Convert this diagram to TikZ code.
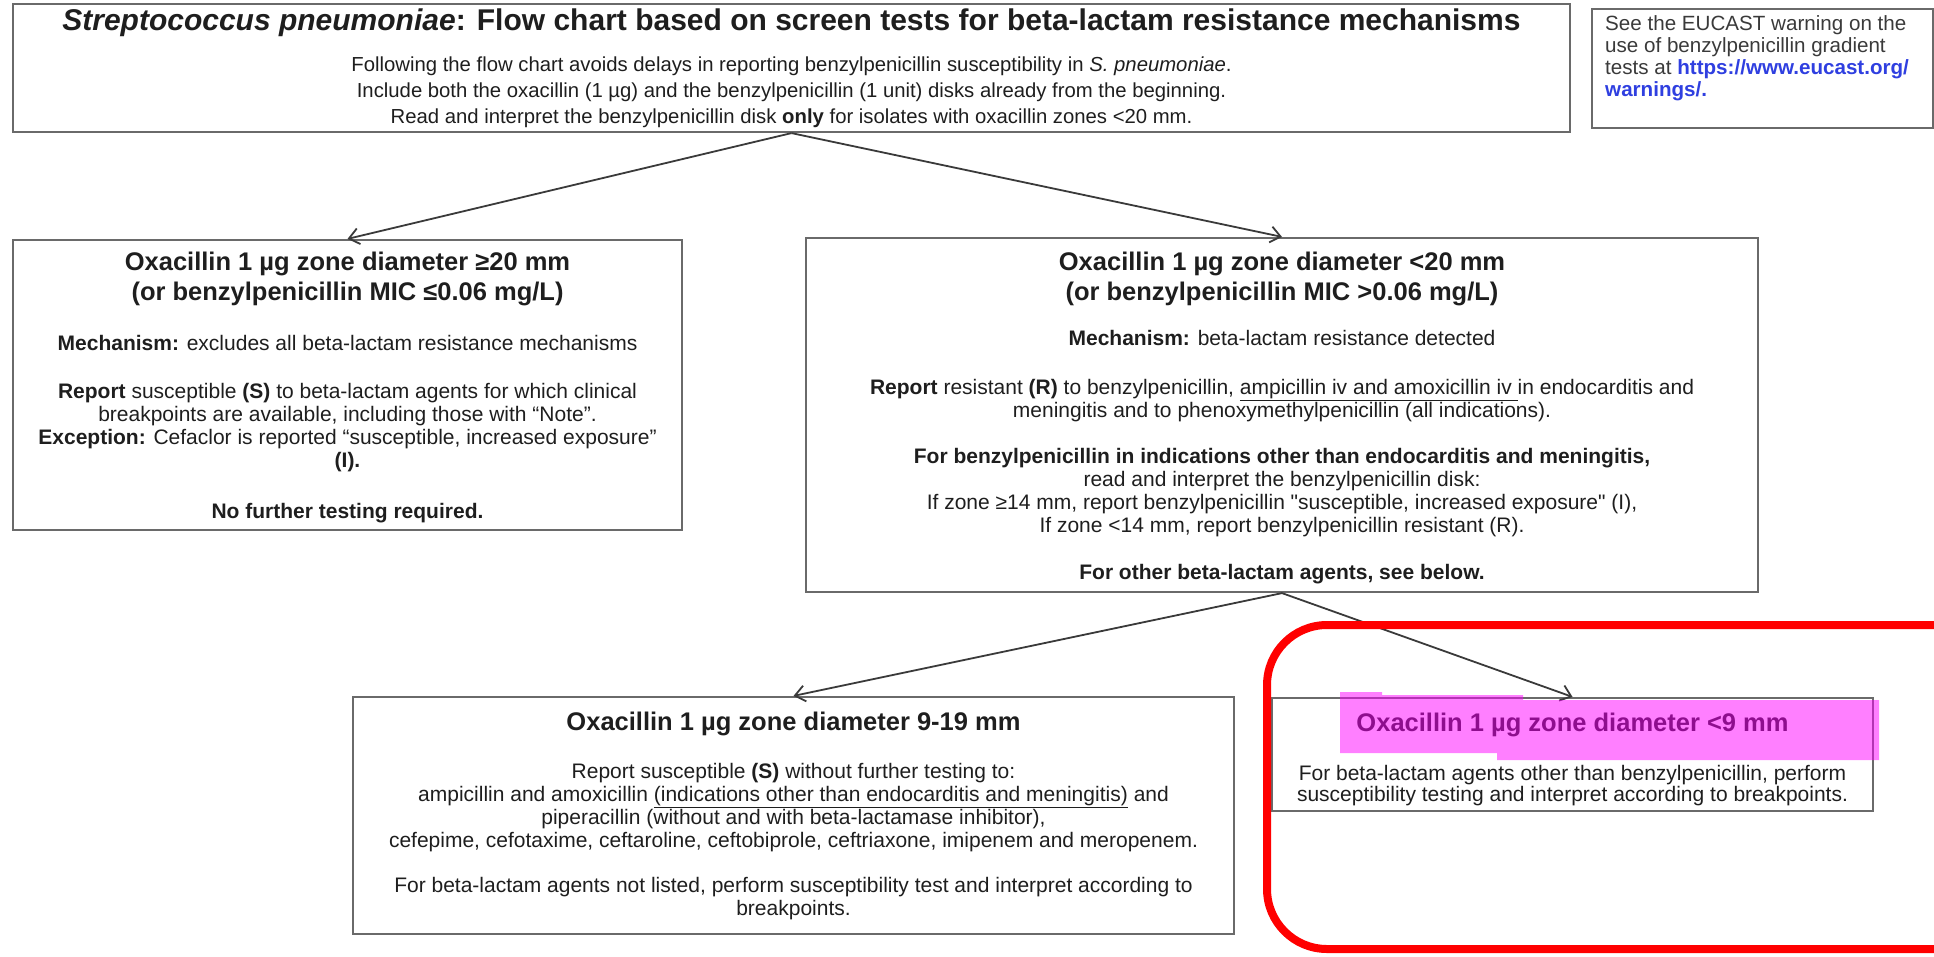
\documentclass[tikz,border=0pt]{standalone}
\usepackage{fontspec}
\setmainfont{Liberation Sans}
\newfontface\qfont{Liberation Sans}[Ligatures=TeXOff]
\usetikzlibrary{arrows.meta}
\setlength{\parindent}{0pt}
\definecolor{txt}{HTML}{1E1E1E}
\definecolor{etxt}{HTML}{3A3A3A}
\definecolor{boxline}{HTML}{6A6A6A}
\definecolor{arrowc}{HTML}{3A3A3A}
\definecolor{linkblue}{HTML}{2F3FE0}
\definecolor{hlred}{HTML}{FF0000}
\definecolor{hlmag}{HTML}{FF00FF}
\newcommand\natspace{\spaceskip=0pt\xspaceskip=0pt\relax}
\newcommand\hdfont{\fontsize{25.5}{29.5}\selectfont\bfseries\natspace}
\newcommand\bdfont[1][23]{\fontsize{21}{#1}\selectfont\natspace}
\newcommand\sq{{\qfont"}}
\tikzset{
  box/.style={draw=boxline, line width=2.2pt, inner sep=0pt},
  boxtext/.style={inner sep=0pt, text=txt},
  flow/.style={draw=arrowc, line width=1.8pt, -{Straight Barb[length=10pt,width=16pt]}},
}
\begin{document}
\begin{tikzpicture}[x=1pt,y=-1pt]
\useasboundingbox (0,0) rectangle (1934,956);

% boxes
\node[box, minimum width=1557pt, minimum height=128pt] (top) at (791.5,68) {};
\node[box, minimum width=341pt, minimum height=119pt] (note) at (1762.5,68.5) {};
\node[box, minimum width=669pt, minimum height=290pt] (left) at (347.5,385) {};
\node[box, minimum width=952pt, minimum height=354pt] (right) at (1282,415) {};
\node[box, minimum width=881pt, minimum height=237pt] (bot) at (793.5,815.5) {};
\node[box, minimum width=601pt, minimum height=113pt] (br) at (1572.5,754.5) {};

% top box text
\node[boxtext, text width=1549pt] (toptext) at (top.center) {\centering
{\fontsize{30}{30}\selectfont\bfseries\natspace\textit{Streptococcus pneumoniae}: Flow chart based on screen tests for beta-lactam resistance mechanisms\par}
\vspace{15pt}
{\fontsize{20.3}{26}\selectfont\natspace Following the flow chart avoids delays in reporting benzylpenicillin susceptibility in \textit{S. pneumoniae}.\\
Include both the oxacillin (1 µg) and the benzylpenicillin (1 unit) disks already from the beginning.\\
Read and interpret the benzylpenicillin disk \textbf{only} for isolates with oxacillin zones <20 mm.\par}};

% EUCAST note text
\node[anchor=north west, inner sep=0pt, text width=330pt, text=etxt] (notetext) at (1605,15) {\raggedright
{\fontsize{20.6}{22.2}\selectfont\natspace
See the EUCAST warning on the\\
use of benzylpenicillin gradient\\
tests at \textcolor{linkblue}{\textbf{https://www.eucast.org/}}\\
\textcolor{linkblue}{\textbf{warnings/.}}\par}};

% left box text
\node[boxtext, text width=661pt, yshift=-2.5pt] (lefttext) at (left.center) {\centering
{\hdfont Oxacillin 1 µg zone diameter ≥20 mm\\
(or benzylpenicillin MIC ≤0.06 mg/L)\par}
\vspace{27pt}
{\bdfont \textbf{Mechanism:} excludes all beta-lactam resistance mechanisms\par}
\vspace{25pt}
{\bdfont \textbf{Report} susceptible \textbf{(S)} to beta-lactam agents for which clinical\\
breakpoints are available, including those with “Note”.\\
\textbf{Exception:} Cefaclor is reported “susceptible, increased exposure”\\
\textbf{(I).}\par}
\vspace{28pt}
{\bdfont \textbf{No further testing required.}\par}};

% right box text
\node[boxtext, text width=944pt, yshift=-3pt] (righttext) at (right.center) {\centering
{\hdfont Oxacillin 1 µg zone diameter <20 mm\\
(or benzylpenicillin MIC >0.06 mg/L)\par}
\vspace{22.5pt}
{\bdfont \textbf{Mechanism:} beta-lactam resistance detected\par}
\vspace{25.5pt}
{\bdfont \textbf{Report} resistant \textbf{(R)} to benzylpenicillin, \underline{ampicillin iv and amoxicillin iv }in endocarditis and\\
meningitis and to phenoxymethylpenicillin (all indications).\par}
\vspace{23.5pt}
{\bdfont \textbf{For benzylpenicillin in indications other than endocarditis and meningitis,}\\
read and interpret the benzylpenicillin disk:\\
If zone ≥14 mm, report benzylpenicillin \sq susceptible, increased exposure\sq{} (I),\\
If zone <14 mm, report benzylpenicillin resistant (R).\par}
\vspace{23.5pt}
{\bdfont \textbf{For other beta-lactam agents, see below.}\par}};

% bottom box text
\node[boxtext, text width=873pt] (bottext) at (bot.center) {\centering
{\hdfont Oxacillin 1 µg zone diameter 9-19 mm\par}
\vspace{25pt}
{\bdfont Report susceptible \textbf{(S)} without further testing to:\\
ampicillin and amoxicillin \underline{(indications other than endocarditis and meningitis)} and\\
piperacillin (without and with beta-lactamase inhibitor),\\
cefepime, cefotaxime, ceftaroline, ceftobiprole, ceftriaxone, imipenem and meropenem.\par}
\vspace{22pt}
{\bdfont For beta-lactam agents not listed, perform susceptibility test and interpret according to\\
breakpoints.\par}};

% bottom right box text
\node[boxtext, text width=593pt, yshift=-4.5pt] (brtext) at (br.center) {\centering
{\hdfont Oxacillin 1 µg zone diameter <9 mm\par}
\vspace{28pt}
{\bdfont[21] For beta-lactam agents other than benzylpenicillin, perform\\
susceptibility testing and interpret according to breakpoints.\par}};

% connectors
\draw[flow] (top.south) -- (left.north);
\draw[flow] (top.south) -- (right.north);
\draw[flow] (right.south) -- (bot.north);
\draw[flow] (right.south) -- (br.north);

% highlight and red frame
\fill[hlmag, fill opacity=0.5] (1340,692) -- (1382,692) -- (1382,695) -- (1523,695) -- (1523,700) -- (1879,700) -- (1879,760) -- (1497,760) -- (1497,753) -- (1340,753) -- cycle;
\draw[hlred, line width=8pt, rounded corners=60pt] (1267,625) rectangle (2010,949);
\end{tikzpicture}
\end{document}
